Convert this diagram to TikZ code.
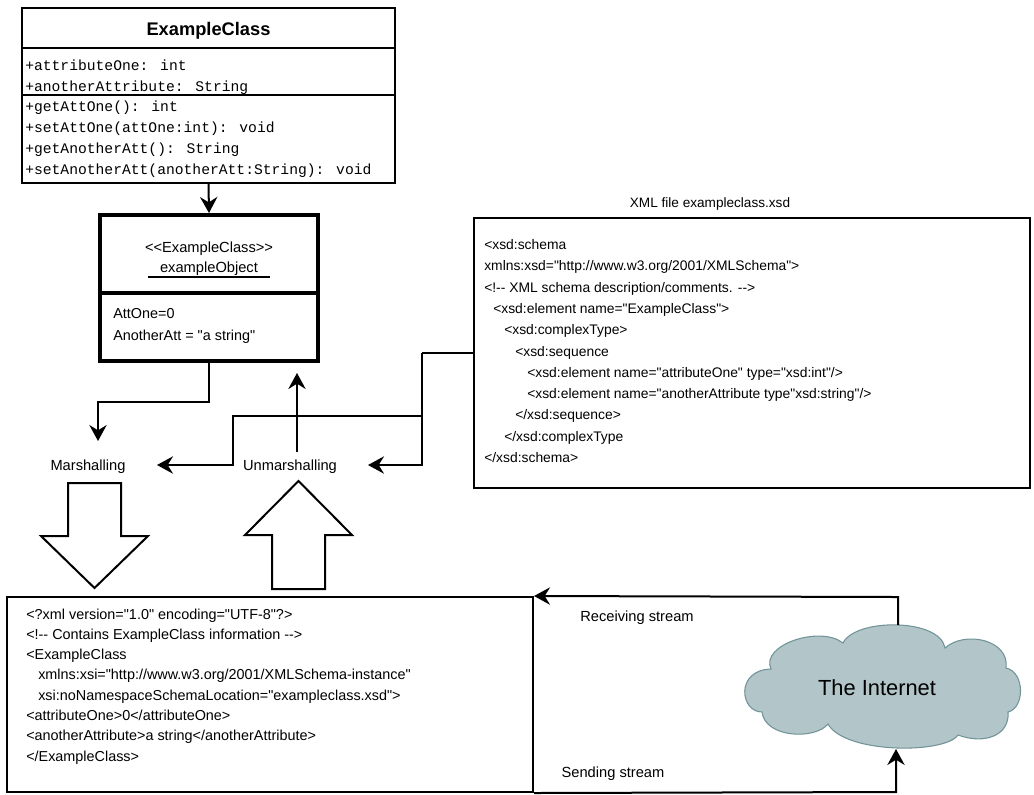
\documentclass[tikz,border=0pt]{standalone}
\usepackage{fontspec}
\setmainfont{Liberation Sans}[Ligatures=TeXOff]
\newfontfamily\codefont{Liberation Mono}[Ligatures=TeXOff]
\usetikzlibrary{arrows.meta}
\definecolor{cloudfill}{RGB}{178,197,200}
\definecolor{cloudedge}{RGB}{112,148,152}
\begin{document}
\begin{tikzpicture}[x=0.75pt,y=-0.75pt,
  px/.style 2 args={minimum width=#1*0.75pt, minimum height=#2*0.75pt},
  frame/.style={draw, line width=1.5pt, inner sep=0pt},
  wire/.style={line width=1.5pt},
  arr/.style={line width=1.5pt, -{Stealth[length=12pt,width=13pt,inset=4pt]}},
  hollow/.style={draw, line width=1.5pt, line join=miter, fill=white},
  code/.style={anchor=base west, inner sep=0pt, font=\codefont\fontsize{11}{13}\selectfont},
  xsdtxt/.style={anchor=base west, inner sep=0pt, font=\fontsize{10.4}{12}\selectfont},
  xmltxt/.style={anchor=base west, inner sep=0pt, font=\fontsize{10.8}{13}\selectfont},
  lbl/.style={anchor=base, inner sep=0pt, font=\fontsize{11}{13}\selectfont},
]
\useasboundingbox (0,0) rectangle (1034,794);

% ---- UML class ----
\node[frame, px={373}{175}] (cls) at (208.5,95.5) {};
\draw[wire] (cls.west |- 0,48) -- (cls.east |- 0,48);
\draw[wire] (cls.west |- 0,95) -- (cls.east |- 0,95);
\node[anchor=base, inner sep=0pt, font=\bfseries\fontsize{13.7}{16}\selectfont] (clsname) at (208.5,35.5) {ExampleClass};
\node[code] (a1) at (25,70) {+attributeOne: int};
\node[code] (a2) at (25,91) {+anotherAttribute: String};
\node[code] (m1) at (25,111) {+getAttOne(): int};
\node[code] (m2) at (25,132) {+setAttOne(attOne:int): void};
\node[code] (m3) at (25,153) {+getAnotherAtt(): String};
\node[code] (m4) at (25,174) {+setAnotherAtt(anotherAtt:String): void};

% ---- object instance ----
\node[draw, line width=3pt, inner sep=0pt, px={218}{146}] (obj) at (209,288) {};
\draw[line width=3pt] (obj.west |- 0,293) -- (obj.east |- 0,293);
\node[lbl] (stereo) at (209,252) {<<ExampleClass>>};
\node[lbl] (oname) at (209,272) {exampleObject};
\draw[line width=1pt] (148,277) -- (270,277);
\node[xmltxt] (v1) at (113,318) {AttOne=0};
\node[xmltxt] (v2) at (113,340) {AnotherAtt = "a string"};

\draw[arr] (cls.south) -- (obj.north);

% ---- schema file ----
\node[anchor=base, inner sep=0pt, font=\fontsize{10.2}{12}\selectfont] (xsdtitle) at (710,207) {XML file exampleclass.xsd};
\node[frame, px={556}{270}] (xsd) at (752,353) {};
\node[xsdtxt] (s1) at (484,249.5) {<xsd:schema};
\node[xsdtxt] (s2) at (484,270.8) {xmlns:xsd="http://www.w3.org/2001/XMLSchema">};
\node[xsdtxt] (s3) at (484,292.1) {<!-- XML schema description/comments. -->};
\node[xsdtxt] (s4) at (493,313.4) {<xsd:element name="ExampleClass">};
\node[xsdtxt] (s5) at (504,334.7) {<xsd:complexType>};
\node[xsdtxt] (s6) at (515,356) {<xsd:sequence};
\node[xsdtxt] (s7) at (527,377.3) {<xsd:element name="attributeOne" type="xsd:int"/>};
\node[xsdtxt] (s8) at (527,398.6) {<xsd:element name="anotherAttribute type"xsd:string"/>};
\node[xsdtxt] (s9) at (515,419.9) {</xsd:sequence>};
\node[xsdtxt] (s10) at (504,441.2) {</xsd:complexType};
\node[xsdtxt] (s11) at (484,462.5) {</xsd:schema>};

% ---- marshalling / unmarshalling ----
\node[lbl] (marsh) at (88,470) {Marshalling};
\node[lbl] (unmarsh) at (290,470) {Unmarshalling};

\coordinate (mtip) at (98,441);
\draw[arr] (obj.south) -- (obj.south |- 0,402) -- (98,402) -- (mtip);

\coordinate (jn) at (422,353);
\coordinate (mtip2) at (157,465);
\coordinate (utip) at (368,465);
\draw[line width=2.2pt] (xsd.west) -- (jn);
\draw[arr] (jn) -- (422,465) -- (utip);
\draw[arr] (422,416) -- (233,416) -- (233,465) -- (mtip2);

\coordinate (ubase) at (297,452);
\coordinate (utop) at (297,373);
\draw[arr] (ubase) -- (utop);

% block arrows
\draw[hollow] (68,483) -- (121,483) -- (121,536) -- (148,536) -- (94.5,588) -- (41,536) -- (68,536) -- cycle;
\draw[hollow] (298.5,481) -- (352,535) -- (325,535) -- (325,589) -- (272,589) -- (272,535) -- (245,535) -- cycle;

% ---- instance document ----
\node[frame, px={526}{195}] (bot) at (270,694.5) {};
\node[xmltxt] (b1) at (26,619) {<?xml version="1.0" encoding="UTF-8"?>};
\node[xmltxt] (b2) at (26,639.3) {<!-- Contains ExampleClass information -->};
\node[xmltxt] (b3) at (26,659.6) {<ExampleClass};
\node[xmltxt] (b4) at (38,679.9) {xmlns:xsi="http://www.w3.org/2001/XMLSchema-instance"};
\node[xmltxt] (b5) at (38,700.2) {xsi:noNamespaceSchemaLocation="exampleclass.xsd">};
\node[xmltxt] (b6) at (26,720.5) {<attributeOne>0</attributeOne>};
\node[xmltxt] (b7) at (26,740.8) {<anotherAttribute>a string</anotherAttribute>};
\node[xmltxt] (b8) at (26,761.1) {</ExampleClass>};

% ---- network cloud ----
\filldraw[fill=cloudfill, draw=cloudedge, line width=0.8pt]
  (762,712) .. controls (740,712) and (735,670) .. (771,669)
            .. controls (760,645) and (820,625) .. (843,643)
            .. controls (855,618) and (940,618) .. (945,648)
            .. controls (965,630) and (1010,640) .. (1006,668)
            .. controls (1025,672) and (1025,708) .. (1008,712)
            .. controls (1010,735) and (985,745) .. (958,735)
            .. controls (945,754) and (845,754) .. (828,724)
            .. controls (815,740) and (765,738) .. (762,712) -- cycle;
\node[anchor=base, inner sep=0pt, font=\fontsize{16.4}{19}\selectfont] (nettxt) at (877,695) {The Internet};

\coordinate (rx) at (898,625);
\coordinate (sx) at (896,749);
\draw[arr] (rx) -- (898,597) -- (bot.north east);
\draw[arr] (bot.south east) -- (896,792) -- (sx);
\node[lbl] (recv) at (637,621) {Receiving stream};
\node[lbl] (send) at (613,777) {Sending stream};
\end{tikzpicture}
\end{document}
